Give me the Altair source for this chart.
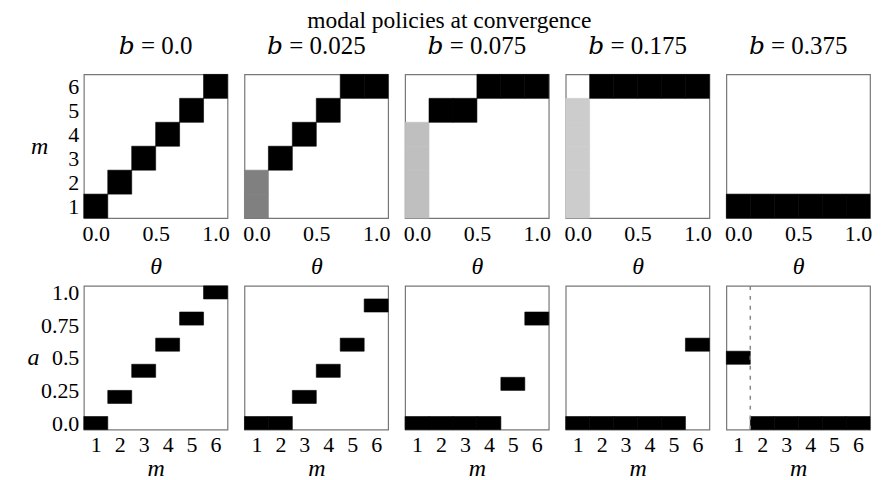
import altair as alt
import pandas as pd

b_labels = ["0.0", "0.025", "0.075", "0.175", "0.375"]
theta_values = [0.0, 0.2, 0.4, 0.6, 0.8, 1.0]
messages = [1, 2, 3, 4, 5, 6]
theta_ticks = [0, 0.5, 1.0]
action_ticks = [0, 0.25, 0.5, 0.75, 1.0]

# sender: modal message(s) for each theta (ties share probability)
sender_modal = [
    [[1], [2], [3], [4], [5], [6]],
    [[1, 2], [3], [4], [5], [6], [6]],
    [[1, 2, 3, 4], [5], [5], [6], [6], [6]],
    [[1, 2, 3, 4, 5], [6], [6], [6], [6], [6]],
    [[1], [1], [1], [1], [1], [1]],
]
# receiver: modal action for each message
receiver_modal = [
    [0.0, 0.2, 0.4, 0.6, 0.8, 1.0],
    [0.0, 0.0, 0.2, 0.4, 0.6, 0.9],
    [0.0, 0.0, 0.0, 0.0, 0.3, 0.8],
    [0.0, 0.0, 0.0, 0.0, 0.0, 0.6],
    [0.5, 0.0, 0.0, 0.0, 0.0, 0.0],
]
dashed_m = [None, None, None, None, 1.5]

FONT = "Liberation Serif"
LBL = 22
color_scale = alt.Scale(domain=[0, 1], range=["#ffffff", "#000000"], interpolate="rgb")


def top_panel(i):
    rows = []
    for t, ms in zip(theta_values, sender_modal[i]):
        for m in ms:
            rows.append({"theta": t, "m": m, "p": 1.0 / len(ms)})
    df = pd.DataFrame(rows)
    first = i == 0
    yaxis = alt.Axis(values=messages, title="m", titleFontStyle="italic",
                     titleAngle=0, titleAlign="right", titleBaseline="middle",
                     titleX=-36, titleY=72, titleFontSize=LBL + 2,
                     titleFontWeight="normal") if first else None
    return alt.Chart(df).transform_calculate(
        x0="datum.theta - 0.1", x1="datum.theta + 0.1",
        y0="datum.m - 0.5", y1="datum.m + 0.5",
    ).mark_rect(strokeWidth=0.6).encode(
        x=alt.X("x0:Q", scale=alt.Scale(domain=[-0.1, 1.1], nice=False, zero=False),
                axis=alt.Axis(values=theta_ticks, format=".1f", title="θ",
                              titleFontStyle="italic", titleFontWeight="normal",
                              titleFontSize=LBL + 2, titlePadding=11,
                              labelOverlap=False)),
        x2="x1:Q",
        y=alt.Y("y0:Q", scale=alt.Scale(domain=[0.5, 6.5], nice=False, zero=False),
                axis=yaxis),
        y2="y1:Q",
        color=alt.Color("p:Q", scale=color_scale, legend=None),
        stroke=alt.Stroke("p:Q", scale=color_scale, legend=None),
    ).properties(width=144, height=144,
                 title=alt.Title("𝑏 = " + b_labels[i], fontSize=25,
                                 fontWeight="normal",
                                 font="Liberation Serif, DejaVu Serif", offset=15))


def bottom_panel(i):
    df = pd.DataFrame({"m": messages, "a": receiver_modal[i], "p": 1.0})
    first = i == 0
    yaxis = alt.Axis(values=action_ticks,
                     labelExpr="datum.value == 0 ? '0.0' : datum.value == 1 ? '1.0' : format(datum.value, '.2~f')",
                     labelOverlap=False,
                     title="a", titleFontStyle="italic",
                     titleAngle=0, titleAlign="right", titleBaseline="middle",
                     titleX=-45, titleY=72, titleFontSize=LBL + 2,
                     titleFontWeight="normal") if first else None
    xscale = alt.Scale(domain=[0.5, 6.5], nice=False, zero=False)
    xaxis = alt.Axis(values=messages, title="m", titleFontStyle="italic",
                     titleFontWeight="normal", titleFontSize=LBL + 2,
                     titlePadding=1, labelOverlap=False)
    rect = alt.Chart(df).transform_calculate(
        x0="datum.m - 0.5", x1="datum.m + 0.5",
        y0="datum.a - 0.05", y1="datum.a + 0.05",
    ).mark_rect(strokeWidth=0.6).encode(
        x=alt.X("x0:Q", scale=xscale, axis=xaxis),
        x2="x1:Q",
        y=alt.Y("y0:Q", scale=alt.Scale(domain=[-0.05, 1.05], nice=False, zero=False),
                axis=yaxis),
        y2="y1:Q",
        color=alt.Color("p:Q", scale=color_scale, legend=None),
        stroke=alt.Stroke("p:Q", scale=color_scale, legend=None),
    )
    layers = [rect]
    if dashed_m[i] is not None:
        rule = alt.Chart(pd.DataFrame({"m": [dashed_m[i]]})).mark_rule(
            color="#888888", strokeWidth=1.5, strokeDash=[4, 6]
        ).encode(x=alt.X("m:Q", scale=xscale, axis=xaxis))
        layers.append(rule)
    return alt.layer(*layers).properties(width=144, height=144)


panels = [top_panel(i) for i in range(5)] + [bottom_panel(i) for i in range(5)]

chart = alt.concat(
    *panels, columns=5, spacing={"row": 68, "column": 17}, bounds="flush", align="each",
    title=alt.Title("modal policies at convergence", fontSize=23.5, fontWeight="normal",
                    font=FONT, anchor="middle", offset=1),
).properties(
    padding={"left": 18, "top": 0, "right": 0, "bottom": 0},
).configure(font=FONT).configure_view(
    stroke="#777777", strokeWidth=1.2
).configure_axis(
    domain=False, ticks=False, grid=False, labelFont=FONT, titleFont=FONT,
    labelFontSize=LBL, labelColor="#000000", titleColor="#000000",
    labelPadding=5, titlePadding=4,
)

chart.save("out.html", embed_options={"renderer": "svg", "actions": False})
